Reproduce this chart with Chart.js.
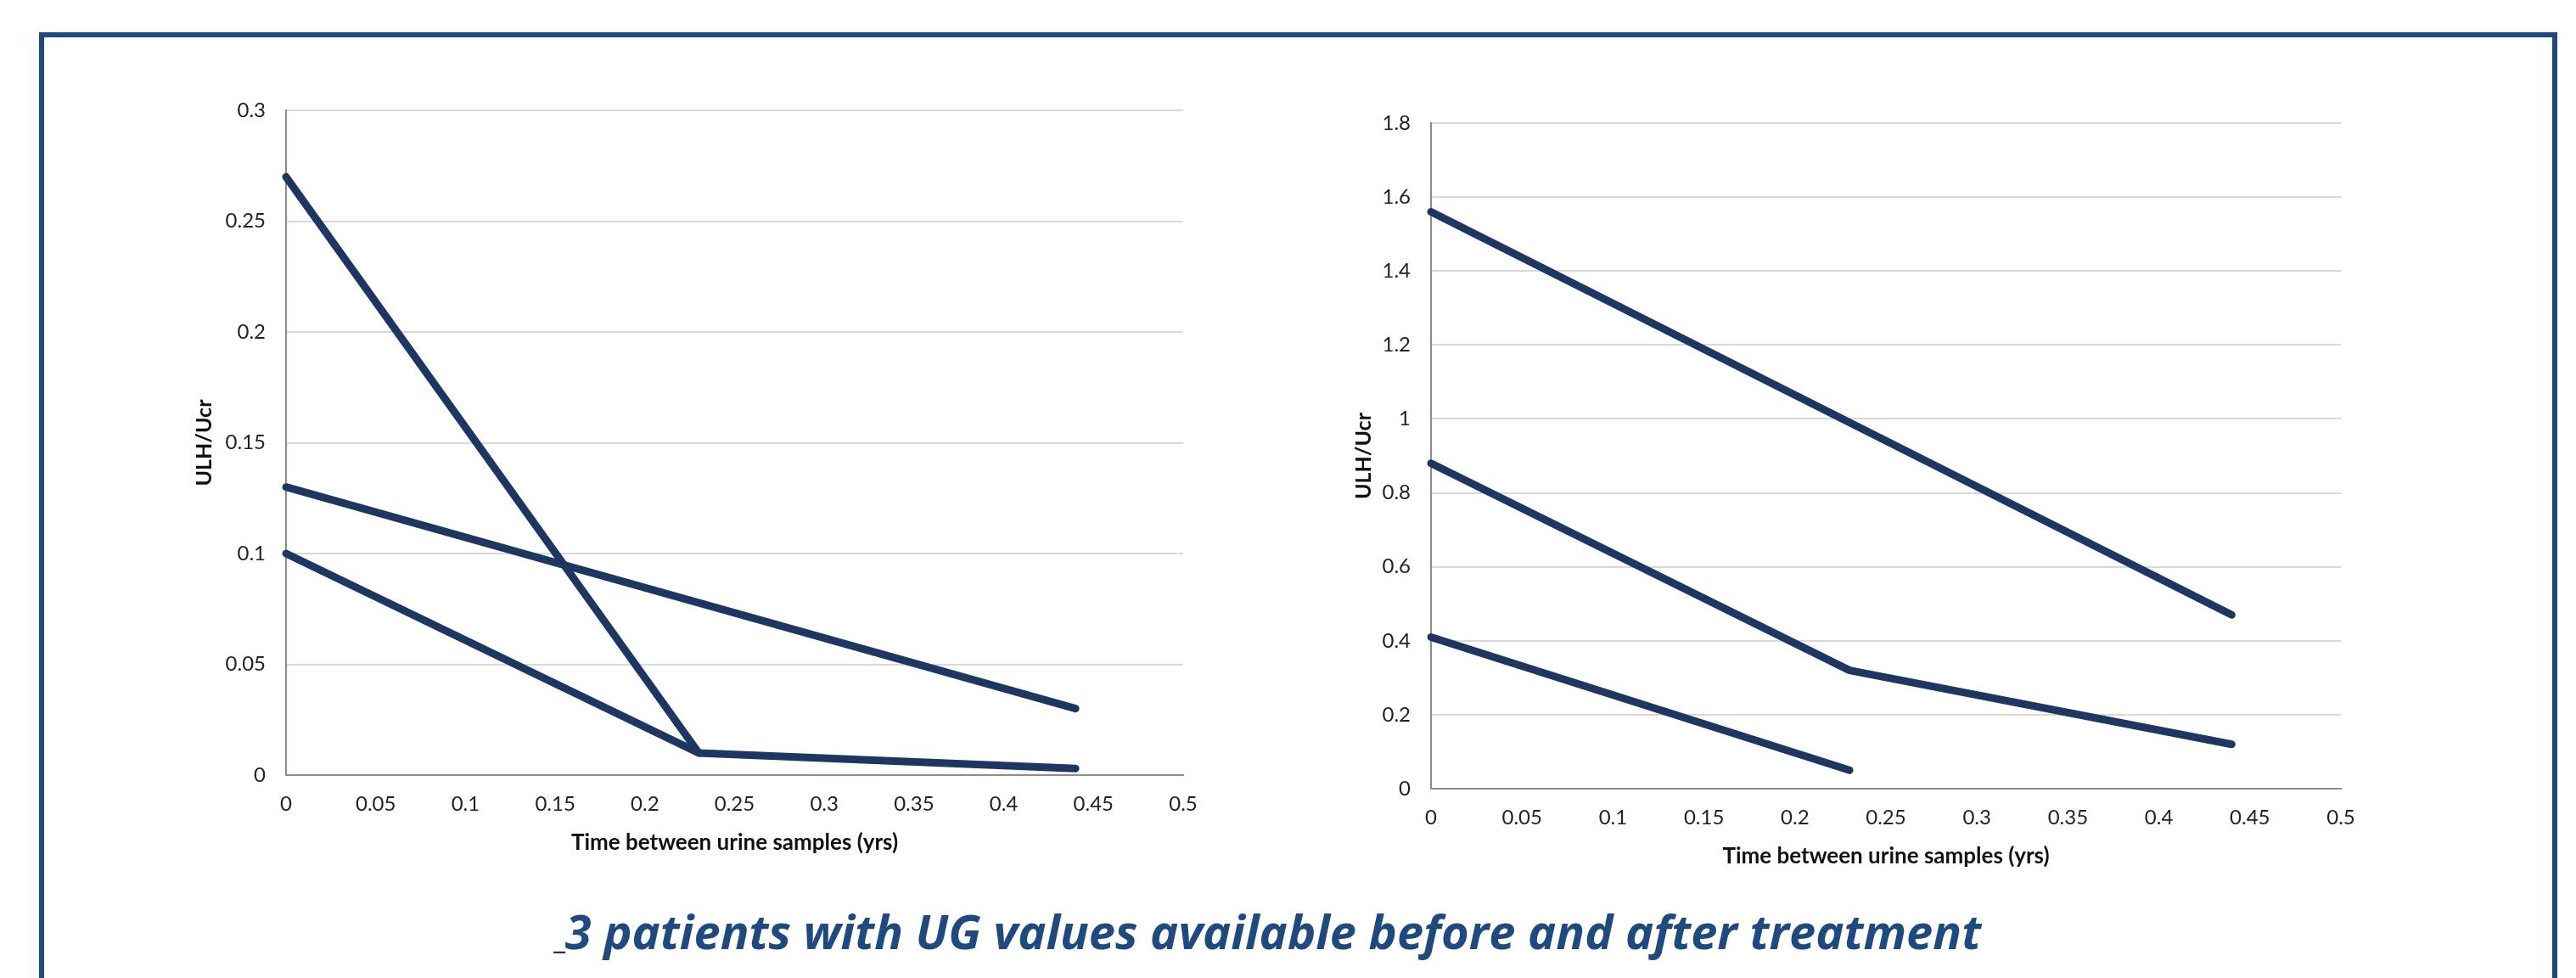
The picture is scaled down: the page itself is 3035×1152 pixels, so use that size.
<!DOCTYPE html>
<html>
<head>
<meta charset="utf-8">
<script src="https://cdn.jsdelivr.net/npm/chart.js@4/dist/chart.umd.min.js"></script>
<style>
  html, body { margin: 0; padding: 0; background: #fff; }
  body { width: 3035px; height: 1152px; position: relative; overflow: hidden; }
  #frame {
    position: absolute; left: 46px; top: 38px; width: 2955px; height: 1200px;
    border: 6px solid #1f497d; border-bottom: none;
  }
  .box { position: absolute; }
  #caption {
    position: absolute; left: 0; width: 2986px; top: 1068px; text-align: center;
    font-family: "Open Sans", sans-serif; font-weight: 700; font-style: italic;
    font-size: 56px; line-height: 56px; color: #1f4a80; white-space: nowrap;
  }
  #caption .dash { color: #1d3762; font-size: 34px; font-style: normal; }
</style>
</head>
<body>
<div id="frame"></div>
<div class="box" style="left:200px; top:90px; width:1250px; height:933px;"><canvas id="chartLeft"></canvas></div>
<div class="box" style="left:1550px; top:90px; width:1250px; height:949px;"><canvas id="chartRight"></canvas></div>
<div id="caption"><span class="dash">_</span>3 patients with UG values available before and after treatment</div>
<script>
// valeurs
const timeLabels = [0, 0.23, 0.44];           // temps entre prélèvements (ans)
const xTicks = [0, 0.05, 0.1, 0.15, 0.2, 0.25, 0.3, 0.35, 0.4, 0.45, 0.5];

// graphique gauche
const leftPatient1 = [0.27, 0.01, 0.003];
const leftPatient2 = [0.13, null, 0.03];
const leftPatient3 = [0.10, 0.01];

// graphique droit
const rightPatient1 = [1.56, null, 0.47];
const rightPatient2 = [0.88, 0.32, 0.12];
const rightPatient3 = [0.41, 0.05];

const lineColor = '#1d3762';
const yTitle = 'ULH/Ucr';
const xTitle = 'Time between urine samples (yrs)';

function toPoints(values) {
  const pts = [];
  values.forEach((v, i) => { if (v !== null && v !== undefined) pts.push({ x: timeLabels[i], y: v }); });
  return pts;
}

function makeChart(id, series, yMax, yStep, pad, yWidth, titlePad) {
  const ctx = document.getElementById(id).getContext('2d');
  return new Chart(ctx, {
    type: 'scatter',
    data: {
      datasets: series.map(s => ({
        data: toPoints(s),
        showLine: true,
        borderColor: lineColor,
        borderWidth: 9,
        borderCapStyle: 'round',
        borderJoinStyle: 'round',
        pointRadius: 0,
        clip: false
      }))
    },
    options: {
      responsive: true,
      maintainAspectRatio: false,
      animation: false,
      layout: { padding: pad },
      plugins: { legend: { display: false }, tooltip: { enabled: false } },
      scales: {
        x: {
          type: 'linear', min: 0, max: 0.5,
          afterBuildTicks: (scale) => { scale.ticks = xTicks.map(v => ({ value: v })); },
          afterFit: (scale) => { scale.height = 110; },
          grid: { display: false, drawTicks: false },
          border: { display: true, color: '#8c8c8c', width: 2 },
          ticks: { color: '#222', padding: 20, maxRotation: 0, autoSkip: false,
                   font: { family: 'Lato', size: 24 }, callback: (v) => String(v) },
          title: { display: true, text: xTitle, color: '#111', padding: { top: 0, bottom: 15 },
                   font: { family: 'Lato', size: 26, weight: 'bold' } }
        },
        y: {
          min: 0, max: yMax,
          ticks: { stepSize: yStep, color: '#222', padding: 24,
                   font: { family: 'Lato', size: 24 },
                   callback: (v) => String(Math.round(v * 100) / 100) },
          afterFit: (scale) => { scale.width = yWidth; },
          grid: { color: '#d9d9d9', lineWidth: 2, drawTicks: false },
          border: { display: true, color: '#8c8c8c', width: 2 },
          title: { display: true, text: yTitle, color: '#111', padding: titlePad,
                   font: { family: 'Lato', size: 25, weight: 'bold' } }
        }
      }
    }
  });
}

makeChart('chartLeft', [leftPatient1, leftPatient2, leftPatient3], 0.3, 0.05,
          { top: 40, right: 56, left: 0, bottom: 0 }, 137, { top: 26, bottom: 0 });
makeChart('chartRight', [rightPatient1, rightPatient2, rightPatient3], 1.8, 0.2,
          { top: 55, right: 42, left: 0, bottom: 0 }, 136, { top: 42, bottom: 0 });
</script>
</body>
</html>
